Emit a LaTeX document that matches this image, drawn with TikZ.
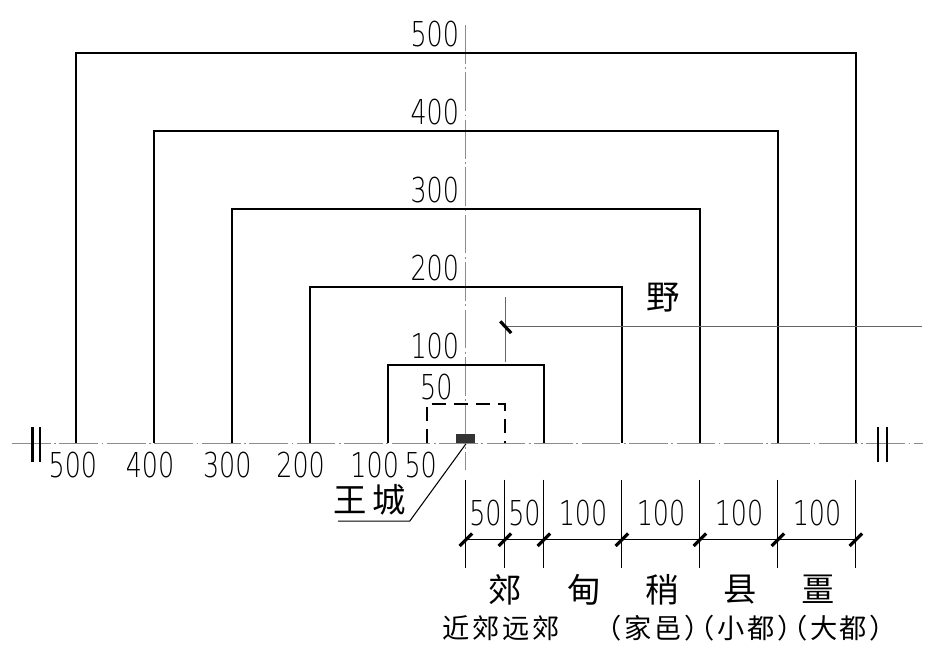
\documentclass[tikz,border=0pt]{standalone}
\usepackage{fontspec}
\newfontfamily\cjk{Noto Sans CJK SC}
\newfontfamily\cjknote[LetterSpace=10, RawFeature=+halt]{Noto Sans CJK SC}
\newfontfamily\numfont[FakeStretch=0.74]{DejaVu Sans ExtraLight}
\usetikzlibrary{positioning}

\begin{document}
\begin{tikzpicture}[
    x=0.0156cm, y=0.0156cm,
    axis/.style={black!45, line width=0.6pt, dash pattern=on 22pt off 2pt on 1pt off 2pt},
    ring/.style={line width=1.4pt},
    inner/.style={line width=1.4pt, dash pattern=on 8pt off 4.5pt},
    num/.style={font=\numfont\fontsize{19.5}{19.5}\selectfont, inner sep=0pt},
    zone/.style={font=\cjk\fontsize{19}{19}\selectfont, inner sep=0pt},
    note/.style={font=\cjknote\fontsize{15.5}{15.5}\selectfont, inner sep=0pt},
    leader/.style={line width=0.6pt},
    tick/.style={line width=1.8pt}
]
\useasboundingbox (-597.4,-268) rectangle (610.3,568);

% Centre lines
\coordinate (axL) at (-582,0);
\coordinate (axR) at (586,0);
\coordinate (axT) at (0,536);
\coordinate (axB) at (0,-35);
\draw[axis] (axL) -- (axR);
\draw[axis] (axT) -- (axB);

% Break marks on the centre line
\foreach \bx in {-556,-546,528,540}
    \draw[ring] (\bx,20) -- (\bx,-24);

% Nested squares
\foreach \d in {100,200,300,400,500} {
    \draw[ring] (-\d,0) |- (\d,\d) -- (\d,0);
    \node[num, anchor=south] (top\d) at (-40,\d+7) {\d};
}
\draw[inner] (-50,0) |- (50,50) -- (50,0);
\node[num, anchor=south] (top50) at (-38,55) {50};

% Numbers under the centre line
\foreach \d/\lx in {500/-504,400/-405,300/-306,200/-212,100/-117,50/-58}
    \node[num, anchor=north] (bot\d) at (\lx,-11) {\d};

% Royal city
\node[fill=black!80, inner sep=0pt, minimum width=10.8pt, minimum height=5.1pt,
      anchor=south] (wang) at (0,-1) {};
\coordinate (wangKnee) at (-72,-100);
\coordinate (wangEnd)  at (-164,-100);
\draw[leader] (wang.south) -- (wangKnee) -- (wangEnd);
\node[zone, anchor=south] (wangcheng) at (-123,-93) {王\,城};

% Wilds
\coordinate (yeTop) at (51,187);
\coordinate (yeBot) at (51,104);
\coordinate (yeMid) at (51,149);
\coordinate (yeEnd) at (585,149);
\draw[leader, black!60] (yeTop) -- (yeBot);
\draw[leader, black!60] (yeMid) -- (yeEnd);
\draw[tick] (44,156) -- (58,141);
\node[zone] (ye) at (253,187) {野};

% Dimension chain
\foreach \p in {0,50,100,200,300,400,500} {
    \coordinate (extT\p) at (\p,-47);
    \coordinate (extB\p) at (\p,-160);
    \draw[leader] (extT\p) -- (extB\p);
    \draw[tick] (\p-8,-132) -- (\p+8,-116);
}
\draw[leader] (0,-124) -- (500,-124);
\foreach \a/\b/\v in {0/50/50,50/100/50,100/200/100,200/300/100,300/400/100,400/500/100}
    \node[num] (dim\a) at ({(\a+\b)/2},-90) {\v};

% Zone names
\node[zone] (jiao)  at (50,-188)  {郊};
\node[zone] (dian)  at (151,-188) {甸};
\node[zone] (shao)  at (251,-188) {稍};
\node[zone] (xian)  at (351,-188) {县};
\node[zone] (jiang) at (451,-188) {畺};
\node[note] (jinyuan) at (45,-237)  {近郊远郊};
\node[note] (dus)     at (359,-237) {（家邑）（小都）（大都）};

\end{tikzpicture}
\end{document}
